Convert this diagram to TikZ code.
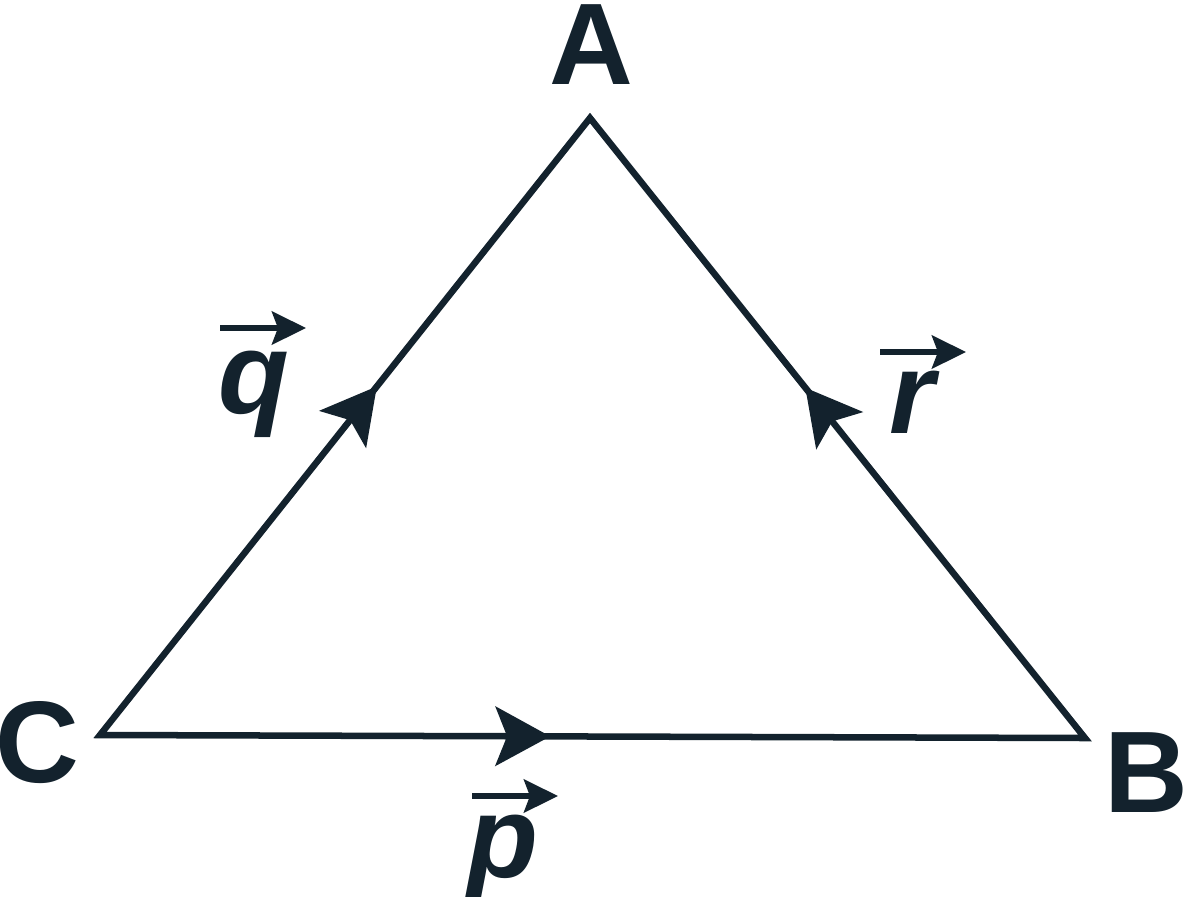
\documentclass[tikz,border=0pt]{standalone}
\usepackage{fontspec}
\setmainfont{Liberation Sans}
\usetikzlibrary{arrows.meta,decorations.markings}
\definecolor{ink}{HTML}{13222D}
\begin{document}
\begin{tikzpicture}[x=0.01cm,y=-0.01cm,
  edge/.style={draw=ink,line width=0.065cm,line join=miter},
  midarrow/.style={postaction={decorate},decoration={markings,
    mark=at position #1 with {\arrow{Stealth[length=0.55cm,width=0.6cm,inset=0.12cm]}}}},
  vlabel/.style={text=ink,font=\fontsize{33}{33}\selectfont\bfseries\itshape,inner sep=0pt,anchor=base,text height=0.53em,text depth=0.18em},
  plabel/.style={text=ink,font=\fontsize{33}{33}\selectfont\bfseries,inner sep=0pt,anchor=base,text height=0.7em,text depth=0pt},
  varrow/.style={draw=ink,line width=0.06cm,-{Stealth[length=0.34cm,width=0.33cm,inset=0.06cm]}}]
\useasboundingbox (0,0) rectangle (1184,896);
\fill[white] (0,0) rectangle (1184,896);
\coordinate (A) at (590,118);
\coordinate (B) at (1085,738);
\coordinate (C) at (100,735);
\draw[edge] (C) -- (A) -- (B) -- cycle;
\path[ink,midarrow=0.565] (C) -- (A);
\path[ink,midarrow=0.565] (B) -- (A);
\path[ink,midarrow=0.457] (C) -- (B);
\node[plabel] (lA) at (591,84) {A};
\node[plabel] (lB) at (1146,812) {B};
\node[plabel] (lC) at (37,782) {C};
\node[vlabel] (lq) at (254,413) {q};
\node[vlabel] (lr) at (912,433) {r};
\node[vlabel] (lp) at (503,877) {p};
\coordinate (q1) at (220,328); \coordinate (q2) at (306,328);
\coordinate (r1) at (880,352); \coordinate (r2) at (966,352);
\coordinate (p1) at (472,796); \coordinate (p2) at (558,796);
\draw[varrow] (q1) -- (q2);
\draw[varrow] (r1) -- (r2);
\draw[varrow] (p1) -- (p2);
\end{tikzpicture}
\end{document}
